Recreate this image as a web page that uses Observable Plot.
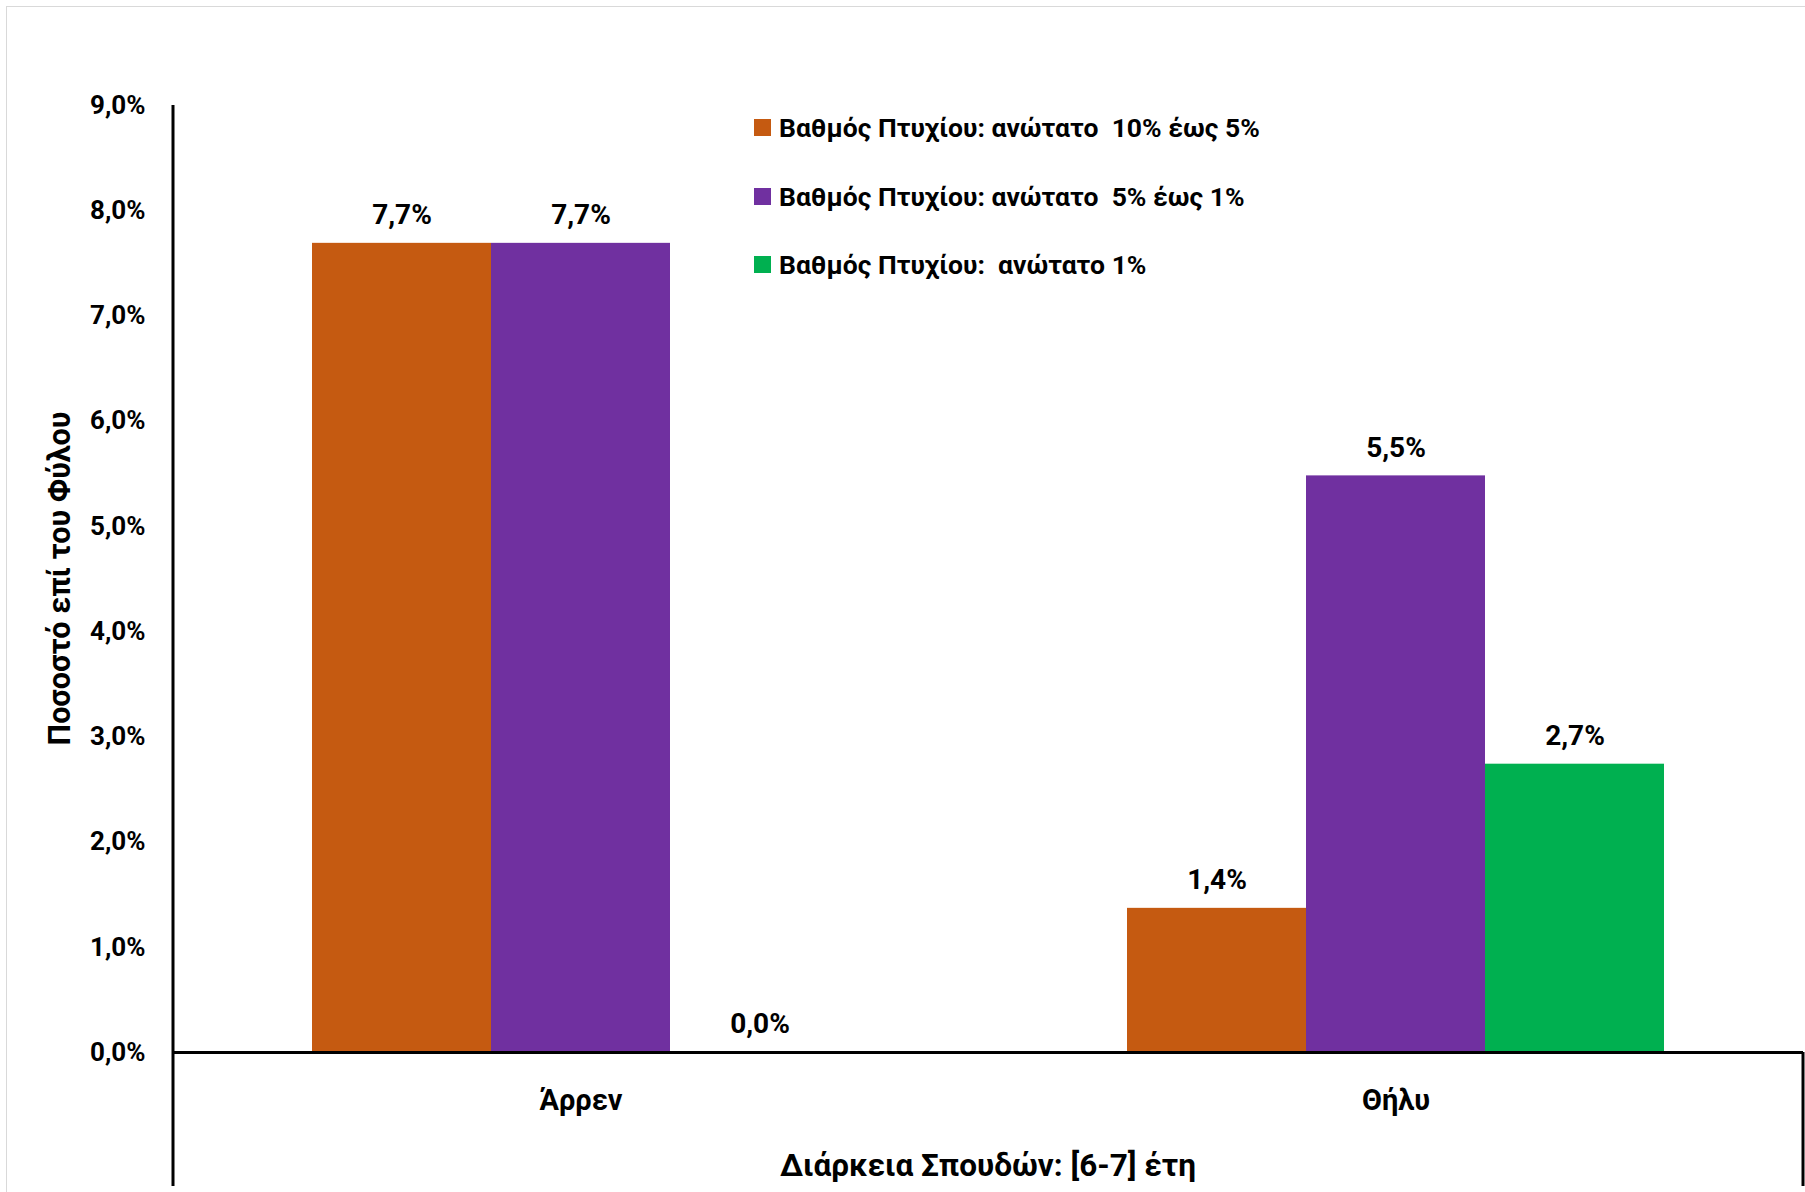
<!DOCTYPE html>
<html><head><meta charset="utf-8">
<script src="https://cdn.jsdelivr.net/npm/d3@7"></script>
<script src="https://cdn.jsdelivr.net/npm/@observablehq/plot@0.6"></script>
<style>
body{margin:0;background:#fff;font-family:Roboto,sans-serif;}
#wrap{position:relative;width:1805px;height:1192px;overflow:hidden;background:#fff;}
#border{position:absolute;left:6px;top:6px;width:1900px;height:1300px;border:1.5px solid #d9d9d9;pointer-events:none;}
#chart{position:absolute;left:0;top:0;}
.row{position:absolute;left:754px;height:30px;display:flex;align-items:center;white-space:pre;font-weight:bold;font-size:26.5px;color:#000;}
.sw{width:17px;height:17px;margin-right:8px;flex:none;}
.title{position:absolute;font-weight:bold;color:#000;white-space:pre;}
#ytitle{font-size:30.5px;}
#xtitle{font-size:31.5px;}
</style></head><body>
<div id="wrap"><div id="border"></div><div id="chart"></div>
<div id="legend"></div>
<div class="title" id="ytitle"></div>
<div class="title" id="xtitle"></div>
</div>
<script>
const genders = ["Άρρεν", "Θήλυ"];
const series = ["Βαθμός Πτυχίου: ανώτατο  10% έως 5%", "Βαθμός Πτυχίου: ανώτατο  5% έως 1%", "Βαθμός Πτυχίου:  ανώτατο 1%"];
const colors = ["#C55A11", "#7030A0", "#00B050"];
const maleValues = [7.69, 7.69, 0.0];
const femaleValues = [1.37, 5.48, 2.74];
const yTicks = [0, 1, 2, 3, 4, 5, 6, 7, 8, 9];
const yTitle = "Ποσοστό επί του Φύλου";
const xTitle = "Διάρκεια Σπουδών: [6-7] έτη";

const data = [];
series.forEach((s, i) => {
  data.push({gender: genders[0], series: s, value: maleValues[i]});
  data.push({gender: genders[1], series: s, value: femaleValues[i]});
});
const fmt = v => v.toFixed(1).replace(".", ",") + "%";

const W = 1805, H = 1192, ML = 173, MR = 2, MT = 105, MB = 140;
const plot = Plot.plot({
  width: W, height: H,
  marginLeft: ML, marginRight: MR, marginTop: MT, marginBottom: MB,
  style: {fontFamily: "Roboto, sans-serif", background: "transparent", color: "#000"},
  fx: {domain: genders, padding: 0, label: null, axis: null},
  x: {domain: series, paddingInner: 0, paddingOuter: 0.764, axis: null},
  y: {domain: [0, 9], axis: null},
  color: {domain: series, range: colors},
  marks: [
    Plot.axisY(yTicks, {tickSize: 0, tickPadding: 28, tickFormat: fmt, fontSize: 26, fontWeight: "bold", label: null}),
    Plot.axisFx({anchor: "bottom", tickSize: 0, tickPadding: 37, fontSize: 29, fontWeight: "bold", label: null}),
    Plot.barY(data, {fx: "gender", x: "series", y: "value", fill: "series"}),
    Plot.text(data, {fx: "gender", x: "series", y: "value", text: d => fmt(d.value), dy: -28, lineAnchor: "middle", fontSize: 28, fontWeight: "bold", fill: "#000"}),
    Plot.ruleY([0], {stroke: "#000", strokeWidth: 3})
  ]
});
document.getElementById("chart").appendChild(plot);

// axis frame lines drawn from the plot's scales
const ys = plot.scale("y");
const svg = d3.select(plot);
const yTop = ys.apply(9), y0 = ys.apply(0);
svg.append("line").attr("x1", ML).attr("x2", ML).attr("y1", yTop).attr("y2", H - 6)
  .attr("stroke", "#000").attr("stroke-width", 3);
svg.append("line").attr("x1", W - MR).attr("x2", W - MR).attr("y1", y0).attr("y2", H - 6)
  .attr("stroke", "#000").attr("stroke-width", 3);

// legend
const leg = document.getElementById("legend");
const rowCenters = [127, 196, 264];
series.forEach((s, i) => {
  const r = document.createElement("div");
  r.className = "row";
  r.style.top = (rowCenters[i] - 15) + "px";
  r.innerHTML = `<div class="sw" style="background:${colors[i]}"></div><span></span>`;
  r.querySelector("span").textContent = s;
  leg.appendChild(r);
});

// titles
const yt = document.getElementById("ytitle");
yt.textContent = yTitle;
const ytw = yt.getBoundingClientRect().width, yth = yt.getBoundingClientRect().height;
yt.style.left = (60 - ytw / 2) + "px";
yt.style.top = ((yTop + y0) / 2 - yth / 2) + "px";
yt.style.transform = "rotate(-90deg)";
const xt = document.getElementById("xtitle");
xt.textContent = xTitle;
const xtw = xt.getBoundingClientRect().width, xth = xt.getBoundingClientRect().height;
xt.style.left = ((ML + W - MR) / 2 - xtw / 2) + "px";
xt.style.top = (1165 - xth / 2) + "px";
</script>
</body></html>
